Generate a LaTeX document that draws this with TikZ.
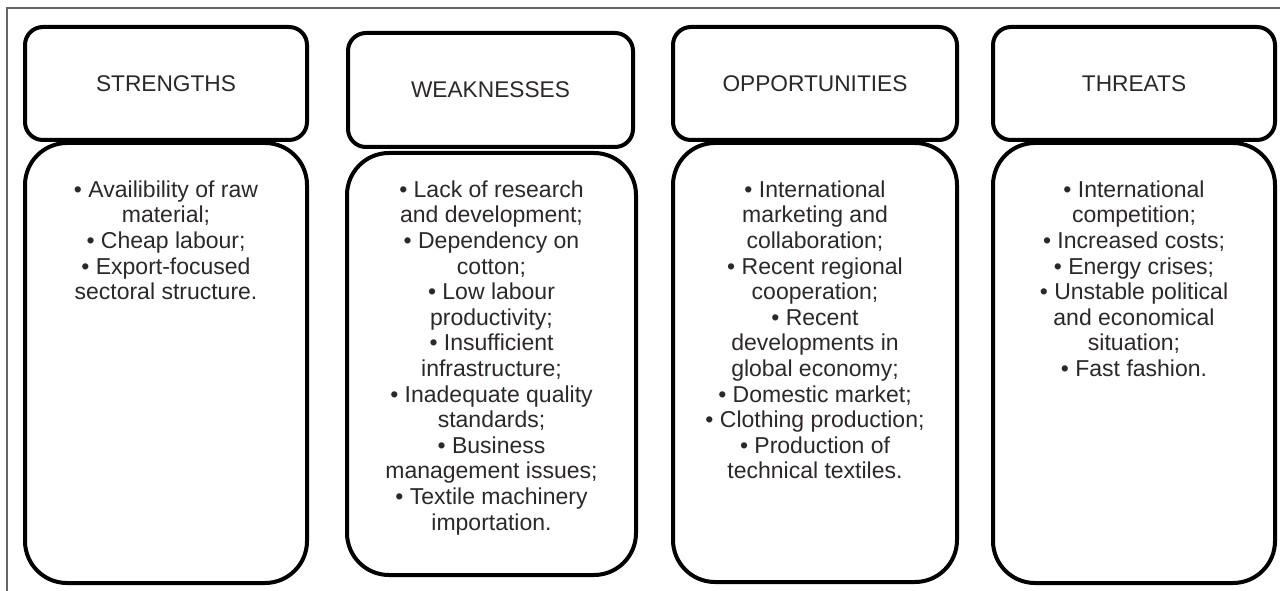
\documentclass[tikz,border=0pt]{standalone}
\usepackage{fontspec}
\setmainfont{Liberation Sans}
\definecolor{txt}{RGB}{45,40,40}
\definecolor{frame}{RGB}{100,100,100}
\begin{document}
\begin{tikzpicture}[x=1pt,y=1pt,
  head/.style={draw=black, line width=4pt, rounded corners=18pt, minimum width=282pt, minimum height=113pt, inner sep=0pt, font=\fontsize{22.7}{25.6}\selectfont, text=txt},
  bodybox/.style={draw=black, line width=4pt, rounded corners=42pt, minimum width=282pt, inner sep=0pt},
  items/.style={anchor=north, align=center, inner sep=0pt, font=\fontsize{23}{25.6}\selectfont, text=txt},
  framel/.style={draw=frame, line width=1.5pt}]
\useasboundingbox[fill=white] (0,0) rectangle (1280,-591);
% frame
\coordinate (fr) at (1280,-8);
\coordinate (ftl) at (7,-8);
\coordinate (fbl) at (7,-591);
\draw[framel] (fr) -- (ftl) -- (fbl);
% headers
\node[head] (hs) at (166,-83.5) {STRENGTHS};
\node[head, minimum width=285pt, minimum height=114pt] (hw) at (490.5,-90) {WEAKNESSES};
\node[head, minimum width=284pt] (ho) at (815,-83.5) {OPPORTUNITIES};
\node[head] (ht) at (1134,-83.5) {THREATS};
% bodies
\node[bodybox, minimum height=440pt] (bs) at (166,-363) {};
\node[bodybox, minimum width=289pt, minimum height=422pt] (bw) at (491.5,-364) {};
\node[bodybox, minimum width=284pt, minimum height=439pt] (bo) at (815,-362.5) {};
\node[bodybox, minimum height=440pt] (bt) at (1134,-363) {};
% texts
\node[items] (ts) at (166,-180) {\rule{0pt}{17pt}• Availibility of raw\\material;\\• Cheap labour;\\• Export-focused\\sectoral structure.};
\node[items] (tw) at (491.5,-180) {\rule{0pt}{17pt}• Lack of research\\and development;\\• Dependency on\\cotton;\\• Low labour\\productivity;\\• Insufficient\\infrastructure;\\• Inadequate quality\\standards;\\• Business\\management issues;\\• Textile machinery\\importation.};
\node[items] (to) at (815,-180) {\rule{0pt}{17pt}• International\\marketing and\\collaboration;\\• Recent regional\\cooperation;\\• Recent\\developments in\\global economy;\\• Domestic market;\\• Clothing production;\\• Production of\\technical textiles.};
\node[items] (tt) at (1134,-180) {\rule{0pt}{17pt}• International\\competition;\\• Increased costs;\\• Energy crises;\\• Unstable political\\and economical\\situation;\\• Fast fashion.};
\end{tikzpicture}
\end{document}
